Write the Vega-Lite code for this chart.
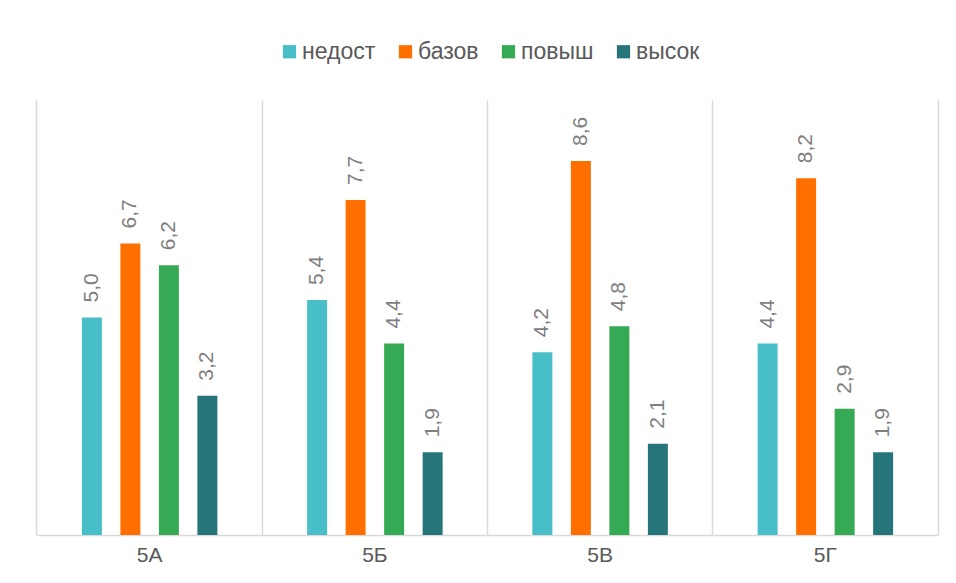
{
  "$schema": "https://vega.github.io/schema/vega-lite/v6.json",
  "width": 901,
  "height": 435,
  "autosize": "none",
  "padding": {"left": 37, "top": 100, "right": 18, "bottom": 48},
  "background": "white",
  "config": {
    "font": "Liberation Sans",
    "view": {"stroke": null},
    "locale": {"number": {"decimal": ",", "thousands": " ", "grouping": [3], "currency": ["", ""]}}
  },
  "data": {
    "values": [
      {"group": "5А", "series": "недост", "value": 5.0},
      {"group": "5А", "series": "базов", "value": 6.7},
      {"group": "5А", "series": "повыш", "value": 6.2},
      {"group": "5А", "series": "высок", "value": 3.2},
      {"group": "5Б", "series": "недост", "value": 5.4},
      {"group": "5Б", "series": "базов", "value": 7.7},
      {"group": "5Б", "series": "повыш", "value": 4.4},
      {"group": "5Б", "series": "высок", "value": 1.9},
      {"group": "5В", "series": "недост", "value": 4.2},
      {"group": "5В", "series": "базов", "value": 8.6},
      {"group": "5В", "series": "повыш", "value": 4.8},
      {"group": "5В", "series": "высок", "value": 2.1},
      {"group": "5Г", "series": "недост", "value": 4.4},
      {"group": "5Г", "series": "базов", "value": 8.2},
      {"group": "5Г", "series": "повыш", "value": 2.9},
      {"group": "5Г", "series": "высок", "value": 1.9}
    ]
  },
  "encoding": {
    "x": {
      "field": "group", "type": "nominal", "sort": ["5А", "5Б", "5В", "5Г"],
      "scale": {"paddingInner": 0.0566, "paddingOuter": 0.0283},
      "axis": {
        "title": null, "labelAngle": 0, "labelFontSize": 21, "labelColor": "#595959",
        "labelPadding": 9, "ticks": false, "domainColor": "#d9d9d9", "domainWidth": 1.5,
        "grid": true, "gridColor": "#d9d9d9", "gridWidth": 1.5, "bandPosition": -0.03
      }
    },
    "xOffset": {
      "field": "series", "type": "nominal", "sort": ["недост", "базов", "повыш", "высок"],
      "scale": {"paddingInner": 0.481, "paddingOuter": 1}
    },
    "y": {
      "field": "value", "type": "quantitative",
      "scale": {"domain": [0, 10], "nice": false, "zero": true},
      "axis": {
        "orient": "right", "title": null, "labels": false, "ticks": false, "grid": false,
        "domain": true, "domainColor": "#d9d9d9", "domainWidth": 1.5
      }
    }
  },
  "layer": [
    {
      "mark": {"type": "bar"},
      "encoding": {
        "color": {
          "field": "series", "type": "nominal", "sort": ["недост", "базов", "повыш", "высок"],
          "scale": {
            "domain": ["недост", "базов", "повыш", "высок"],
            "range": ["#48BEC8", "#FF6F00", "#36A954", "#25757A"]
          },
          "legend": {
            "title": null, "orient": "none", "direction": "horizontal", "columns": 4,
            "legendX": 241, "legendY": -60,
            "symbolType": "square", "symbolSize": 175, "symbolStrokeWidth": 0,
            "labelFontSize": 23, "labelColor": "#595959", "labelOffset": 1,
            "columnPadding": 18
          }
        }
      }
    },
    {
      "mark": {"type": "text", "angle": 270, "align": "left", "baseline": "middle", "dx": 15, "fontSize": 21, "color": "#7f7f7f"},
      "encoding": {
        "text": {"field": "value", "type": "quantitative", "format": ".1f"}
      }
    }
  ]
}
